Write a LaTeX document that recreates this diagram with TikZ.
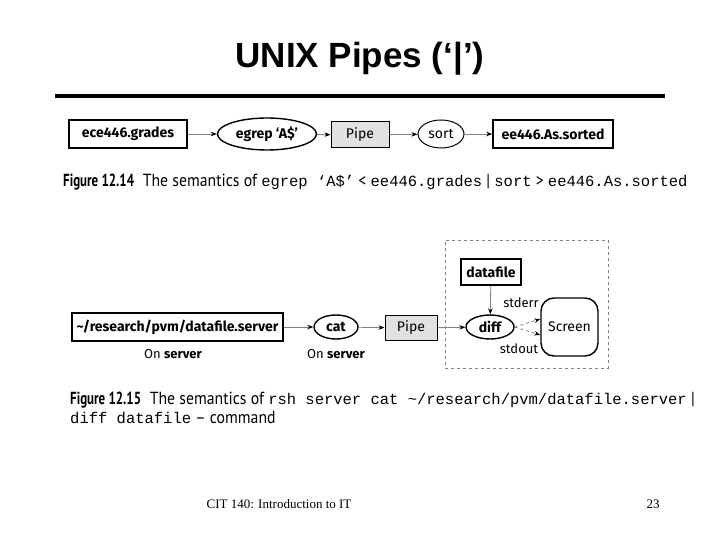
\documentclass[tikz,border=0pt]{standalone}
\usepackage{fontspec}
\setmainfont{Fira Sans}
\setmonofont{Liberation Mono}
\newfontfamily\titlefont{Liberation Sans}
\newfontfamily\capfont[FakeStretch=0.9]{PT Sans}
\newfontfamily\capbf[FakeStretch=0.74]{PT Sans Bold}
\newfontfamily\footfont{Liberation Serif}
\usetikzlibrary{shapes.geometric,arrows.meta}
\definecolor{pipegray}{RGB}{225,225,225}
\definecolor{arrgray}{RGB}{130,130,130}
\newcommand{\cmono}[1]{{\fontsize{15.5}{19}\selectfont\ttfamily #1}}
\tikzset{
  filebox/.style={draw, line width=1.6pt, inner sep=0pt, minimum height=28pt, font=\fontsize{14}{16}\selectfont\bfseries},
  proc/.style={draw, ellipse, line width=1.4pt, inner sep=0pt, font=\fontsize{14}{16}\selectfont\bfseries},
  procthin/.style={draw, ellipse, line width=1pt, inner sep=0pt, font=\fontsize{14}{16}\selectfont},
  pipebox/.style={draw, line width=1pt, fill=pipegray, inner sep=0pt, font=\fontsize{14}{16}\selectfont},
  flow/.style={draw=arrgray, line width=0.8pt, -{Stealth[length=6pt,width=4.5pt,color=black,fill=black]}},
  lbl/.style={inner sep=0pt, font=\fontsize{13}{15}\selectfont},
  captext/.style={inner sep=0pt, anchor=base west, font=\capfont\fontsize{17.5}{19}\selectfont},
}
\begin{document}
\begin{tikzpicture}[x=1pt,y=-1pt]
\useasboundingbox (0,0) rectangle (720,540);
% title
\node[inner sep=0pt, anchor=base, font=\titlefont\bfseries\fontsize{35}{40}\selectfont] (title) at (360,68) {UNIX Pipes (‘|’)};
\draw[line width=4pt] (55,96) -- (665,96);
% figure 12.14
\node[filebox, minimum width=118pt] (g) at (128,134) {ece446.grades};
\node[proc, minimum width=99pt, minimum height=32pt] (e) at (267,134) {egrep ‘A\$’};
\node[pipebox, minimum width=58pt, minimum height=26pt] (p1) at (360,135) {Pipe};
\node[procthin, minimum width=46pt, minimum height=28pt] (s) at (441,134) {sort};
\node[filebox, minimum width=120pt] (o) at (553,134) {ee446.As.sorted};
\draw[flow] (g) -- (e);
\draw[flow] (e) -- (p1);
\draw[flow] (p1) -- (s);
\draw[flow] (s) -- (o);
\node[captext] (c1) at (63,187) {{\capbf Figure 12.14}\enspace The semantics of \cmono{egrep ‘A\$’} < \cmono{ee446.grades} | \cmono{sort} > \cmono{ee446.As.sorted}};
% figure 12.15
\node[draw=arrgray, dashed, line width=0.8pt, minimum width=163pt, minimum height=128pt] (frame) at (526.5,304) {};
\node[filebox, minimum width=60pt, minimum height=26pt] (d) at (491,272) {datafile};
\node[proc, minimum width=48pt, minimum height=24pt] (diff) at (490,327) {diff};
\node[draw, line width=1.4pt, rounded corners=13pt, minimum width=57pt, minimum height=58pt, inner sep=0pt, font=\fontsize{14}{16}\selectfont] (scr) at (569.5,327) {Screen};
\draw[flow] (d) -- (diff);
\draw[flow, dashed] (diff.east) -- ([yshift=-8pt]scr.west);
\draw[flow, dashed] (diff.east) -- ([yshift=8pt]scr.west);
\node[lbl] (se) at (521,303) {stderr};
\node[lbl] (so) at (519,349) {stdout};
\node[filebox, minimum width=211pt] (src) at (177.5,327) {\textasciitilde/research/pvm/datafile.server};
\node[proc, minimum width=44pt, minimum height=24pt] (cat) at (336,327) {cat};
\node[pipebox, minimum width=52pt, minimum height=25pt] (p2) at (411,328) {Pipe};
\draw[flow] (src) -- (cat);
\draw[flow] (cat) -- (p2);
\draw[flow] (p2) -- (diff);
\node[lbl] (on1) at (173,354) {On \textbf{server}};
\node[lbl] (on2) at (336,354) {On \textbf{server}};
\node[captext] (c2a) at (70,404) {{\capbf Figure 12.15}\enspace The semantics of \cmono{rsh server cat \textasciitilde/research/pvm/datafile.server} |};
\node[captext] (c2b) at (70,423) {\cmono{diff datafile} – command};
% footer
\node[inner sep=0pt, font=\footfont\fontsize{13}{15}\selectfont] (foot) at (279,504) {CIT 140: Introduction to IT};
\node[inner sep=0pt, font=\footfont\fontsize{13}{15}\selectfont] (num) at (653,504) {23};
\end{tikzpicture}
\end{document}
